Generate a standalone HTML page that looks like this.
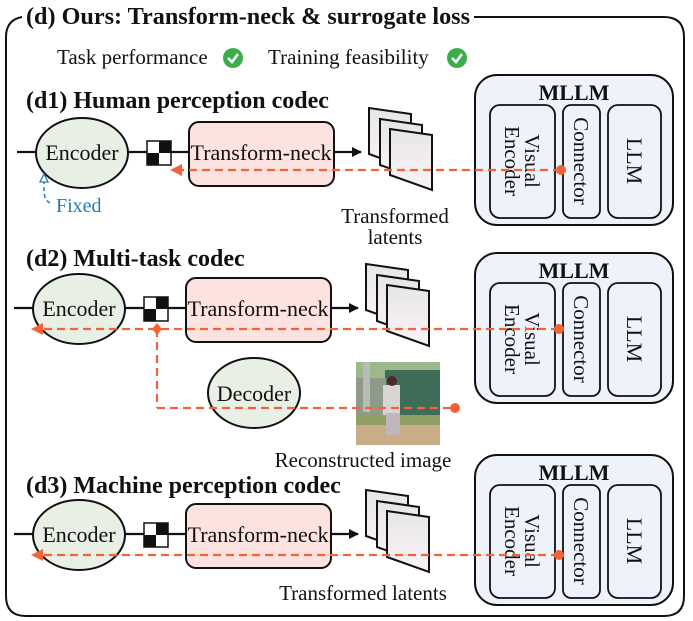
<!DOCTYPE html>
<html><head><meta charset="utf-8"><style>
html,body{margin:0;padding:0;background:#fff;width:693px;height:621px;overflow:hidden}
svg{display:block}
text{font-family:"Liberation Serif",serif;fill:#111}
.b{font-weight:bold}
</style></head><body>
<svg width="693" height="621" viewBox="0 0 693 621" xmlns="http://www.w3.org/2000/svg">
<defs>
<marker id="ah" markerWidth="10" markerHeight="10" refX="9" refY="5" orient="auto" markerUnits="userSpaceOnUse"><path d="M0,0 L10,5 L0,10 Z" fill="#111"/></marker>
<marker id="rh" markerWidth="12" markerHeight="12" refX="10" refY="6" orient="auto" markerUnits="userSpaceOnUse"><path d="M0,0 L12,6 L0,12 Z" fill="#f4623a"/></marker>
<linearGradient id="sg" x1="0" y1="0" x2="0" y2="1"><stop offset="0" stop-color="#e6e6e6"/><stop offset="1" stop-color="#fbf3f6"/></linearGradient>
<g id="codec">
<line x1="14" y1="0" x2="186" y2="0" stroke="#111" stroke-width="2.2"/>
<ellipse cx="79" cy="1" rx="46" ry="35" fill="#e8efe5" stroke="#111" stroke-width="2"/>
<text x="79" y="8" font-size="22" text-anchor="middle">Encoder</text>
<rect x="144" y="-11" width="24" height="24" fill="#fff" stroke="#111" stroke-width="1.5"/>
<rect x="156" y="-11" width="12" height="12" fill="#111"/>
<rect x="144" y="1" width="12" height="12" fill="#111"/>
<rect x="186" y="-30" width="145" height="64" rx="10" fill="#fde3e0" stroke="#111" stroke-width="2"/>
<text x="258" y="8" font-size="22" text-anchor="middle">Transform-neck</text>
<line x1="331" y1="0" x2="358" y2="0" stroke="#111" stroke-width="2.2" marker-end="url(#ah)"/>
<polygon points="366,-44 408,-38 408,17 366,2" fill="url(#sg)" stroke="#111" stroke-width="2"/>
<polygon points="377,-33 419,-27 419,28 377,13" fill="url(#sg)" stroke="#111" stroke-width="2"/>
<polygon points="387,-23 429,-17 429,38 387,23" fill="url(#sg)" stroke="#111" stroke-width="2"/>
</g>
<g id="mllm">
<rect x="475" y="0" width="198" height="150" rx="22" fill="#eef3fb" stroke="#111" stroke-width="2"/>
<text x="574" y="25" font-size="22" class="b" text-anchor="middle">MLLM</text>
<rect x="490" y="30" width="65" height="113" rx="10" fill="#eef3fb" stroke="#111" stroke-width="1.8"/>
<rect x="563" y="30" width="37" height="113" rx="8" fill="#eef3fb" stroke="#111" stroke-width="1.8"/>
<rect x="608" y="30" width="53" height="113" rx="10" fill="#eef3fb" stroke="#111" stroke-width="1.8"/>
<g transform="translate(522,86) rotate(90)"><text x="0" y="-3" font-size="21" text-anchor="middle">Visual</text><text x="0" y="17" font-size="21" text-anchor="middle">Encoder</text></g>
<g transform="translate(581,86) rotate(90)"><text x="0" y="7" font-size="21" text-anchor="middle">Connector</text></g>
<g transform="translate(634,86) rotate(90)"><text x="0" y="7" font-size="22" text-anchor="middle">LLM</text></g>
</g>
</defs>
<!-- frame -->
<path d="M25,17 L664,17 Q684,17 684,37 L684,596 Q684,616 664,616 L26,616 Q6,616 6,596 L6,37 Q6,20 22,17" fill="none" stroke="#111" stroke-width="2"/>
<rect x="24" y="3" width="450" height="26" fill="#fff"/>
<text x="26" y="24" font-size="24" class="b" textLength="444" lengthAdjust="spacingAndGlyphs">(d) Ours: Transform-neck &amp; surrogate loss</text>
<text x="57" y="64" font-size="21">Task performance</text>
<circle cx="233" cy="58" r="10" fill="#3cad4c"/><path d="M228,58 L232,62 L238,54" fill="none" stroke="#fff" stroke-width="2.6"/>
<text x="268" y="64" font-size="21">Training feasibility</text>
<circle cx="457" cy="58" r="10" fill="#3cad4c"/><path d="M452,58 L456,62 L462,54" fill="none" stroke="#fff" stroke-width="2.6"/>

<!-- d1 -->
<text x="26" y="108" font-size="24" class="b">(d1) Human perception codec</text>
<use href="#mllm" y="75"/>
<use href="#codec" transform="translate(3,152)"/>
<line x1="561" y1="170" x2="172" y2="170" stroke="#f4623a" stroke-width="2.2" stroke-dasharray="8,5" marker-end="url(#rh)"/>
<circle cx="561" cy="170" r="5" fill="#f4623a"/>
<path d="M50,203 Q44,200 44,190 L44,176" fill="none" stroke="#2a7ab0" stroke-width="1.5" stroke-dasharray="4,3"/>
<path d="M40,182 L44,174 L48,182 Z" fill="#fff" stroke="#2a7ab0" stroke-width="1.3"/>
<text x="56" y="212" font-size="20" style="fill:#2a7ab0">Fixed</text>
<text x="395" y="223" font-size="21" text-anchor="middle">Transformed</text>
<text x="395" y="244" font-size="21" text-anchor="middle">latents</text>

<!-- d2 -->
<text x="26" y="266" font-size="24" class="b">(d2) Multi-task codec</text>
<use href="#mllm" y="253"/>
<use href="#codec" transform="translate(0,308)"/>
<line x1="559" y1="329" x2="33" y2="329" stroke="#f4623a" stroke-width="2.2" stroke-dasharray="8,5" marker-end="url(#rh)"/>
<circle cx="559" cy="329" r="5" fill="#f4623a"/>
<ellipse cx="254" cy="393" rx="46" ry="35" fill="#e8efe5" stroke="#111" stroke-width="2"/>
<text x="254" y="401" font-size="22" text-anchor="middle">Decoder</text>
<g>
<rect x="356" y="362" width="84" height="83" fill="#6f8a5a"/>
<rect x="356" y="362" width="84" height="20" fill="#9db88a"/>
<rect x="385" y="370" width="55" height="45" fill="#3f6d5a"/>
<rect x="356" y="378" width="30" height="40" fill="#8f9a88"/>
<rect x="363" y="362" width="7" height="50" fill="#b7bcb8"/>
<rect x="356" y="415" width="84" height="12" fill="#8fa062"/>
<rect x="356" y="425" width="84" height="20" fill="#c9ad87"/>
<rect x="383" y="385" width="17" height="30" fill="#d8d4d4"/>
<rect x="386" y="413" width="14" height="22" fill="#bdb7bb"/>
<circle cx="392" cy="381" r="5" fill="#4a2a2a"/>
</g>
<line x1="157" y1="329" x2="157" y2="408" stroke="#f4623a" stroke-width="2.2" stroke-dasharray="8,5"/>
<line x1="157" y1="408" x2="455" y2="408" stroke="#f4623a" stroke-width="2.2" stroke-dasharray="8,5"/>
<path d="M157,323 L162,329 L157,335 L152,329 Z" fill="#f4623a"/>
<circle cx="455" cy="408" r="5" fill="#f4623a"/>
<text x="363" y="467" font-size="21" text-anchor="middle">Reconstructed image</text>

<!-- d3 -->
<text x="26" y="493" font-size="24" class="b">(d3) Machine perception codec</text>
<use href="#mllm" y="455"/>
<use href="#codec" transform="translate(0,534)"/>
<line x1="559" y1="555" x2="33" y2="555" stroke="#f4623a" stroke-width="2.2" stroke-dasharray="8,5" marker-end="url(#rh)"/>
<circle cx="559" cy="555" r="5" fill="#f4623a"/>
<text x="363" y="600" font-size="21" text-anchor="middle">Transformed latents</text>
</svg>
</body></html>
